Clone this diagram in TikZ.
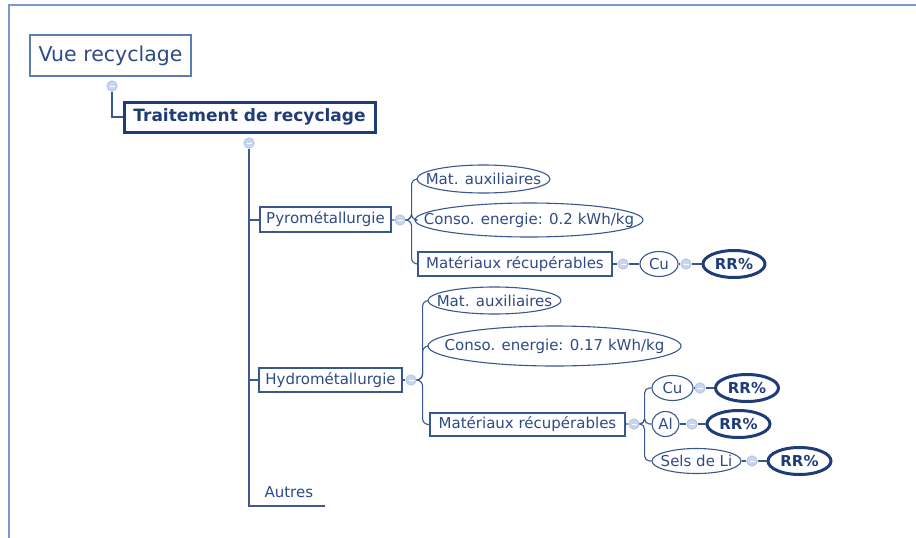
\documentclass[tikz,border=0pt]{standalone}
\usepackage{fontspec}
\setmainfont{DejaVu Sans}
\usetikzlibrary{shapes.geometric}

\definecolor{navy}{HTML}{1F3C78}
\definecolor{txtblue}{HTML}{2E4A85}
\definecolor{linkblue}{HTML}{38578F}
\definecolor{knobfill}{HTML}{C8D5F0}
\definecolor{knobdraw}{HTML}{A9BDE6}
\definecolor{framecol}{HTML}{7C98CC}
\definecolor{vueblue}{HTML}{5A7DB5}

% text that does not widen its ellipse
\newcommand\tight[1]{\makebox[0pt]{#1}}

\begin{document}
\begin{tikzpicture}[x=1pt,y=-1pt,
    every node/.style={text=txtblue,inner sep=0pt},
    box/.style={draw=linkblue,line width=1.3pt,font=\fontsize{15}{18}\selectfont},
    oval/.style={draw=linkblue,line width=1.1pt,ellipse,font=\fontsize{15}{18}\selectfont},
    rr/.style={draw=navy,line width=3pt,ellipse,text=navy,minimum height=27pt,
      font=\bfseries\fontsize{15}{18}\selectfont},
    knob/.style={circle,draw=knobdraw,fill=knobfill,minimum size=10.5pt,line width=0.6pt,
      path picture={\draw[white,line width=0.7pt]
        ([xshift=-2.5pt]path picture bounding box.center) -- ([xshift=2.5pt]path picture bounding box.center);}},
    link/.style={draw=linkblue,line width=1.1pt},
    trunk/.style={draw=navy!85!white,line width=2pt}]
  \useasboundingbox (0,0) rectangle (916,538);
  \draw[framecol,line width=1.2pt] (9,538) |- (916,5);
  % root
  \node[box,draw=vueblue,line width=1.8pt,minimum width=161pt,minimum height=41pt,
    font=\fontsize{20.5}{24}\selectfont] (vue) at (110.5,55.5) {Vue recyclage};
  \node[knob] (vuec) at (112,86) {};
  \node[draw=navy,line width=3pt,minimum width=251pt,minimum height=30pt,text=navy,
    font=\bfseries\fontsize{17}{20}\selectfont] (trait) at (249.5,117) {Traitement de recyclage};
  \node[knob] (traitc) at (249,143) {};
  \draw[link] (vuec.south) |- (trait.west);
  % branches
  \node[box,minimum width=131pt,minimum height=25pt] (pyro) at (325.5,219.5) {\tight{Pyrométallurgie}};
  \node[box,minimum width=143pt,minimum height=24pt] (hydro) at (330.5,380) {\tight{Hydrométallurgie}};
  \node[anchor=south east,minimum width=72pt,minimum height=28pt,
    font=\fontsize{15}{18}\selectfont] (autres) at (325,506) {Autres};
  \draw[trunk] (traitc.south) |- (autres.south east);
  \draw[trunk] (traitc |- pyro.west) -- (pyro.west);
  \draw[trunk] (traitc |- hydro.west) -- (hydro.west);
  % pyrometallurgie
  \node[knob] (pyc) at (400,220) {};
  \node[oval,minimum width=133pt,minimum height=28pt] (pyaux) at (483.5,179) {\tight{Mat. auxiliaires}};
  \node[oval,minimum width=228pt,minimum height=34pt] (pycon) at (529,220) {\tight{Conso. energie: 0.2 kWh/kg}};
  \node[box,minimum width=194pt,minimum height=24pt] (pymat) at (515,264) {\tight{Matériaux récupérables}};
  \node[knob] (pymatc) at (623,264) {};
  \node[oval,minimum width=38pt,minimum height=25pt] (pycu) at (659,264) {\tight{Cu}};
  \node[knob] (pycuc) at (686,264) {};
  \node[rr,minimum width=62pt] (pyrr) at (734,264) {\tight{RR\%}};
  \draw[link] (pyro) -- (pyc);
  \foreach \n in {pyaux,pycon,pymat}
    \draw[link,rounded corners=6pt] (pyc.east) -- ++(6,0) |- (\n.west);
  \draw[link] (pymat) -- (pymatc) -- (pycu) -- (pycuc) -- (pyrr);
  % hydrometallurgie
  \node[knob] (hyc) at (411,380) {};
  \node[oval,minimum width=133pt,minimum height=27pt] (hyaux) at (494.5,300.5) {\tight{Mat. auxiliaires}};
  \node[oval,minimum width=253pt,minimum height=40pt] (hycon) at (554.5,346) {\tight{Conso. energie: 0.17 kWh/kg}};
  \node[box,minimum width=195pt,minimum height=23pt] (hymat) at (527.5,424.5) {\tight{Matériaux récupérables}};
  \node[knob] (hymatc) at (634,424) {};
  \draw[link] (hydro) -- (hyc);
  \foreach \n in {hyaux,hycon,hymat}
    \draw[link,rounded corners=6pt] (hyc.east) -- ++(6,0) |- (\n.west);
  \draw[link] (hymat) -- (hymatc);
  \foreach \id/\txt/\w/\cx/\y/\kx/\rx in {cu/Cu/41/672.5/388/700/747,
      al/Al/27/665.5/424/692/738.5, li/Sels de Li/89/696.5/461/752/799.5} {
    \node[oval,minimum width=\w pt,minimum height=25pt] (hy\id) at (\cx,\y) {\tight{\txt}};
    \node[knob] (hy\id c) at (\kx,\y) {};
    \node[rr,minimum width=63pt] (hy\id rr) at (\rx,\y) {\tight{RR\%}};
    \draw[link] (hy\id) -- (hy\id c) -- (hy\id rr);
    \draw[link,rounded corners=5pt] (hymatc.east) -- ++(5,0) |- (hy\id.west);
  }
\end{tikzpicture}
\end{document}
